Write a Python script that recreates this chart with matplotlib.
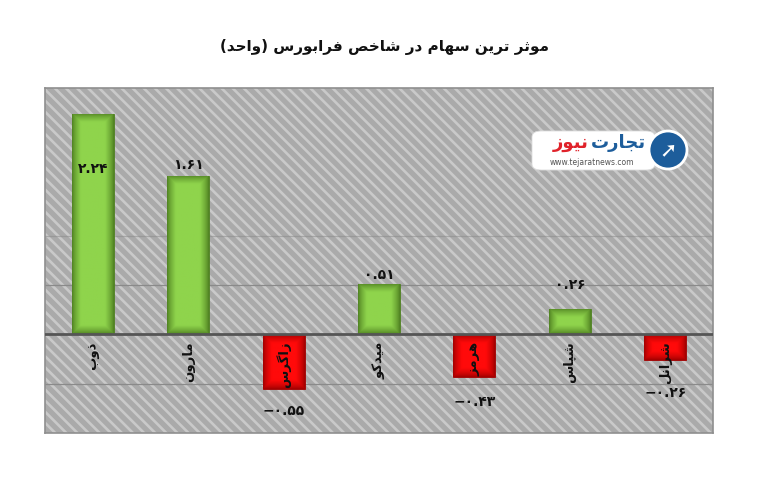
import numpy as np
import matplotlib
matplotlib.use("Agg")
import matplotlib.pyplot as plt
from matplotlib.patches import Rectangle, FancyBboxPatch, Ellipse
import matplotlib.colors as mcolors

# ---------------- data ----------------
title = "موثر ترین سهام در شاخص فرابورس (واحد)"
categories = ["ذوب", "مارون", "زاگرس", "میدکو", "هرمز", "شپاس", "شرانل"]
values = [2.24, 1.61, -0.55, 0.51, -0.43, 0.26, -0.26]

# ---------------- layout / style ----------------
label_offsets_px = [-55, 11, -22, 9, -25, 24, -33]
GREEN_C, GREEN_E = "#8fd44c", "#4a7a1e"
RED_C, RED_E = "#ff0a0a", "#9a0000"

plt.rcParams['font.family'] = ['DejaVu Sans']
plt.rcParams['hatch.linewidth'] = 1.9

# ---------------- simple Persian shaping ----------------
F = {
    'ا': ('\uFE8D', '\uFE8E', None, None),
    'ب': ('\uFE8F', '\uFE90', '\uFE91', '\uFE92'),
    'پ': ('\uFB56', '\uFB57', '\uFB58', '\uFB59'),
    'ت': ('\uFE95', '\uFE96', '\uFE97', '\uFE98'),
    'ث': ('\uFE99', '\uFE9A', '\uFE9B', '\uFE9C'),
    'ج': ('\uFE9D', '\uFE9E', '\uFE9F', '\uFEA0'),
    'ح': ('\uFEA1', '\uFEA2', '\uFEA3', '\uFEA4'),
    'خ': ('\uFEA5', '\uFEA6', '\uFEA7', '\uFEA8'),
    'د': ('\uFEA9', '\uFEAA', None, None),
    'ذ': ('\uFEAB', '\uFEAC', None, None),
    'ر': ('\uFEAD', '\uFEAE', None, None),
    'ز': ('\uFEAF', '\uFEB0', None, None),
    'س': ('\uFEB1', '\uFEB2', '\uFEB3', '\uFEB4'),
    'ش': ('\uFEB5', '\uFEB6', '\uFEB7', '\uFEB8'),
    'ص': ('\uFEB9', '\uFEBA', '\uFEBB', '\uFEBC'),
    'ف': ('\uFED1', '\uFED2', '\uFED3', '\uFED4'),
    'ک': ('\uFB8E', '\uFB8F', '\uFB90', '\uFB91'),
    'گ': ('\uFB92', '\uFB93', '\uFB94', '\uFB95'),
    'ل': ('\uFEDD', '\uFEDE', '\uFEDF', '\uFEE0'),
    'م': ('\uFEE1', '\uFEE2', '\uFEE3', '\uFEE4'),
    'ن': ('\uFEE5', '\uFEE6', '\uFEE7', '\uFEE8'),
    'و': ('\uFEED', '\uFEEE', None, None),
    'ه': ('\uFEE9', '\uFEEA', '\uFEEB', '\uFEEC'),
    'ی': ('\uFBFC', '\uFBFD', '\uFBFE', '\uFBFF'),
}


def shape(s):
    out = []
    for i, c in enumerate(s):
        if c not in F:
            out.append(c)
            continue
        prev = s[i - 1] if i > 0 else None
        nxt = s[i + 1] if i + 1 < len(s) else None
        jp = prev in F and F[prev][2] is not None
        jn = F[c][2] is not None and nxt in F
        iso, fin, ini, med = F[c]
        if jp and jn:
            out.append(med)
        elif jp:
            out.append(fin)
        elif jn:
            out.append(ini)
        else:
            out.append(iso)
    vis = ''.join(out)[::-1]
    return vis.translate(str.maketrans('()', ')('))


def fa_num(v):
    s = f"{v:.2f}"
    return s.translate(str.maketrans('0123456789-', '۰۱۲۳۴۵۶۷۸۹−'))


# ---------------- figure ----------------
W, H = 768, 492
fig = plt.figure(figsize=(W / 100, H / 100), dpi=100)
L, R, T, B = 45, 713, 88, 433
ax = fig.add_axes([L / W, 1 - B / H, (R - L) / W, (B - T) / H])
ax.set_xlim(-0.5, len(categories) - 0.5)
ax.set_ylim(-1.0, 2.5)

# hatched background
ax.set_facecolor("#aaaaaa")
bg = Rectangle((0, 0), 1, 1, transform=ax.transAxes, facecolor="#aaaaaa",
               edgecolor="#c9c9c9", lw=0, hatch="\\\\\\", zorder=0)
ax.add_patch(bg)

# grid lines
for gy, ga in [(-0.5, 1.0), (0.5, 1.0), (1.0, 0.55)]:
    ax.axhline(gy, color="#8a8a8a", lw=0.9, alpha=ga, zorder=1)

for sp in ax.spines.values():
    sp.set_color("#8f8f8f")
    sp.set_linewidth(1.2)
ax.set_xticks([])
ax.set_yticks([])

x = np.arange(len(categories))
colors = [(GREEN_C, GREEN_E) if v >= 0 else (RED_C, RED_E) for v in values]
bars = ax.bar(x, values, width=0.44, color=[c[0] for c in colors],
              edgecolor=[c[1] for c in colors], lw=0.6, zorder=3)

# inner-glow gradient for each bar
for rect, (cc, ce) in zip(bars, colors):
    x0, y0 = rect.get_x(), rect.get_y()
    w, h = rect.get_width(), rect.get_height()
    p0 = ax.transData.transform((x0, y0))
    p1 = ax.transData.transform((x0 + w, y0 + h))
    wpx, hpx = abs(p1[0] - p0[0]), abs(p1[1] - p0[1])
    nx, ny = max(int(wpx), 2), max(int(hpx), 2)
    xx = (np.arange(nx) + 0.5) / nx * wpx
    yy = (np.arange(ny) + 0.5) / ny * hpx
    dx = np.minimum(xx, wpx - xx)[None, :]
    dy = np.minimum(yy, hpx - yy)[:, None]
    d = np.minimum(dx, dy)
    t = np.clip(d / 9.0, 0, 1) ** 0.7
    c1 = np.array(mcolors.to_rgb(cc))
    c0 = np.array(mcolors.to_rgb(ce))
    img = c0[None, None, :] * (1 - t[..., None]) + c1[None, None, :] * t[..., None]
    im = ax.imshow(img, extent=(x0, x0 + w, min(y0, y0 + h), max(y0, y0 + h)),
                   aspect='auto', interpolation='bilinear', zorder=3.5)
    im.set_clip_path(rect)

ax.set_xlim(-0.5, len(categories) - 0.5)
ax.set_ylim(-1.0, 2.5)

# zero line
ax.axhline(0, color="#555555", lw=2.0, zorder=4)

# value labels
for xi, v, off in zip(x, values, label_offsets_px):
    ax.annotate(fa_num(v), (xi, v), xytext=(0, off), textcoords='offset pixels',
                ha='center', va='center', fontsize=10, fontweight='bold',
                color="#111111", zorder=6)

# category labels (vertical, just under the zero line)
for xi, name in zip(x, categories):
    ax.annotate(shape(name), (xi, 0), xytext=(0, -7), textcoords='offset pixels',
                rotation=90, ha='center', va='top', fontsize=9.5,
                fontweight='bold', color="#111111", zorder=6)

# title
fig.text(0.5, 1 - 47 / H, shape(title), ha='center', va='center',
         fontsize=11, fontweight='bold', color="#111111")


# watermark logo
def fx(px):
    return px / W


def fy(py):
    return 1 - py / H


box = FancyBboxPatch((fx(532), fy(170)), fx(655) - fx(532), fy(131) - fy(170),
                     boxstyle="round,pad=0,rounding_size=0.012",
                     transform=fig.transFigure, facecolor="white",
                     edgecolor="#dddddd", lw=0.6, zorder=10)
fig.patches.append(box)
circ = Ellipse((fx(668), fy(150)), 38 / W, 38 / H, transform=fig.transFigure,
               facecolor="#1d5d9b", edgecolor="white", lw=2, zorder=11)
fig.patches.append(circ)
fig.text(fx(668), fy(150), "➚", ha='center', va='center', fontsize=15,
         color="white", fontweight='bold', zorder=12)
fig.text(fx(646), fy(143), shape("تجارت"), ha='right', va='center', fontsize=13,
         fontweight='bold', color="#1d5d9b", zorder=12)
fig.text(fx(589), fy(143), shape("نیوز"), ha='right', va='center', fontsize=13,
         fontweight='bold', color="#e0222a", zorder=12)
fig.text(fx(592), fy(162), "www.tejaratnews.com", ha='center', va='center',
         fontsize=5.5, color="#555555", zorder=12)

fig.savefig("out.png", dpi=100, facecolor="white")
